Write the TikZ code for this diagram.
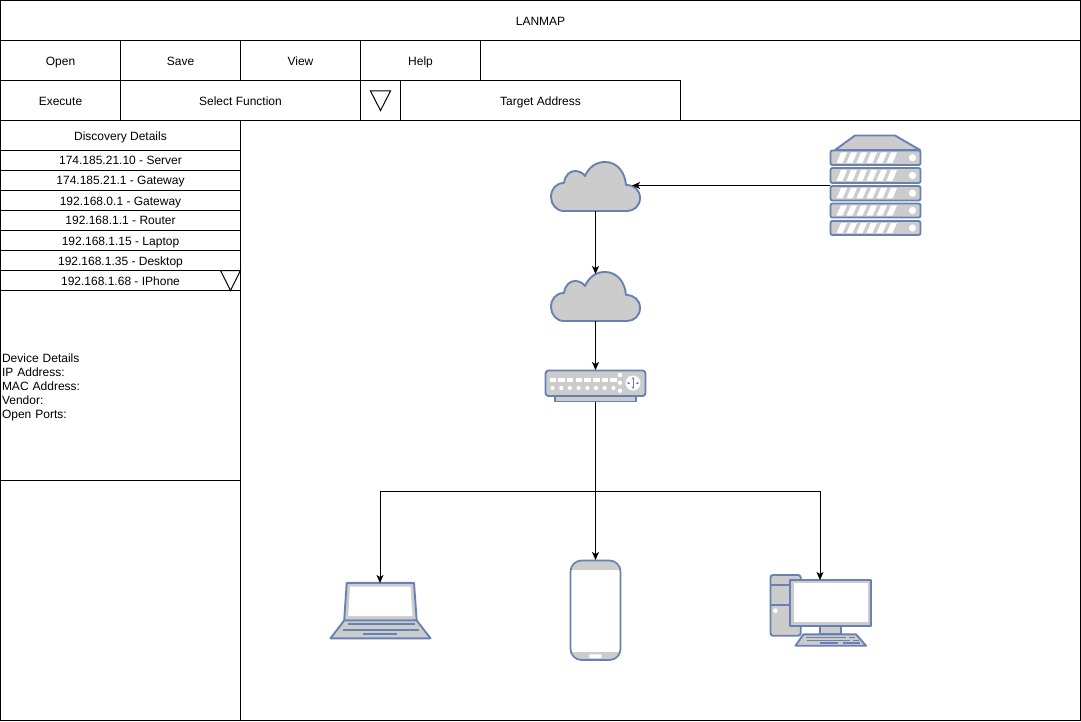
\documentclass[tikz,border=0pt]{standalone}
\usepackage{fontspec}
\setmainfont{Liberation Sans}
\usetikzlibrary{arrows.meta}
\definecolor{iconline}{HTML}{6881B3}
\definecolor{iconfill}{HTML}{CCCCCC}
\newcommand{\cloudicon}[2]{%
  \begin{scope}[shift={(#1,#2)}]
    \draw[iconpart] (564,211) .. controls (556,211) and (551,204) .. (551,197)
      .. controls (551,189) and (556,183) .. (564,183)
      .. controls (565,175) and (570,171) .. (575,171)
      .. controls (579,171) and (583,173) .. (585,176)
      .. controls (589,167) and (596,162) .. (605,162)
      .. controls (617,162) and (625,172) .. (626,185)
      .. controls (634,185) and (640,190) .. (640,198)
      .. controls (640,206) and (634,211) .. (627,211) -- cycle;
  \end{scope}}
\newcommand{\slab}[2]{%
  \draw[iconpart,rounded corners=2pt] (830.5,#1) rectangle (920.5,#2);
  \foreach \s in {0,...,5}{
    \fill[white] ({836.5+\s*10},{#2-2}) -- ({841+\s*10},{#1+2}) -- ({847+\s*10},{#1+2}) -- ({842.5+\s*10},{#2-2}) -- cycle;}
  \fill[white] (912.5,{(#1+#2)/2}) circle (3.6);}
\tikzset{
  cell/.style={draw=black,line width=1pt,rectangle,anchor=north west,inner sep=0pt,outer sep=0pt,align=center,
    font=\fontsize{12}{14}\selectfont,text=black,text height=9pt,text depth=0pt},
  bigcell/.style={cell,text height=11pt},
  plain/.style={rectangle,anchor=north west,inner ysep=0pt,inner xsep=2pt,outer sep=0pt,align=left,
    font=\fontsize{12}{14}\selectfont,text=black},
  iconbox/.style={rectangle,inner sep=0pt,outer sep=0pt,anchor=north west},
  iconpart/.style={draw=iconline,fill=iconfill,line width=1.9pt,line join=round},
  iconline/.style={draw=iconline,line width=1.7pt},
  conn/.style={draw=black,line width=1pt,-{Stealth[length=8pt,width=7pt,inset=2pt]}},
  tri/.style={draw=black,line width=1pt,fill=white,line join=miter}
}
\begin{document}
\begin{tikzpicture}[x=1pt,y=-1pt]
\useasboundingbox (0,0) rectangle (1081,722);
\fill[white] (0,0) rectangle (1081,722);
% frame
\node[bigcell,minimum width=1080pt,minimum height=40pt] (title) at (0.5,0.5) {LANMAP};
\node[cell,minimum width=1080pt,minimum height=80pt] (menubar) at (0.5,40.5) {};
\node[cell,minimum width=840pt,minimum height=600pt] (canvas) at (240.5,120.5) {};
\node[bigcell,minimum width=120pt,minimum height=40pt] (open) at (0.5,40.5) {Open};
\node[bigcell,minimum width=120pt,minimum height=40pt] (save) at (120.5,40.5) {Save};
\node[bigcell,minimum width=120pt,minimum height=40pt] (view) at (240.5,40.5) {View};
\node[bigcell,minimum width=120pt,minimum height=40pt] (help) at (360.5,40.5) {Help};
\node[bigcell,minimum width=120pt,minimum height=40pt] (execute) at (0.5,80.5) {Execute};
\node[bigcell,minimum width=240pt,minimum height=40pt] (select) at (120.5,80.5) {Select Function};
\node[cell,minimum width=40pt,minimum height=40pt] (dropbox) at (360.5,80.5) {};
\node[bigcell,minimum width=280pt,minimum height=40pt] (target) at (400.5,80.5) {Target Address};
\draw[tri] (370.5,91) -- (390.5,91) -- (380.5,110.5) -- cycle;
% left panel
\node[bigcell,minimum width=240pt,minimum height=30pt] (disc) at (0.5,120.5) {Discovery Details};
\node[cell,minimum width=240pt,minimum height=20pt] (r1) at (0.5,150.5) {174.185.21.10 - Server};
\node[cell,minimum width=240pt,minimum height=20pt] (r2) at (0.5,170.5) {174.185.21.1 - Gateway};
\node[cell,minimum width=240pt,minimum height=20pt] (r3) at (0.5,190.5) {192.168.0.1 - Gateway};
\node[cell,minimum width=240pt,minimum height=20pt] (r4) at (0.5,210.5) {192.168.1.1 - Router};
\node[cell,minimum width=240pt,minimum height=20pt] (r5) at (0.5,230.5) {192.168.1.15 - Laptop};
\node[cell,minimum width=240pt,minimum height=20pt] (r6) at (0.5,250.5) {192.168.1.35 - Desktop};
\node[cell,minimum width=240pt,minimum height=20pt] (r7) at (0.5,270.5) {192.168.1.68 - IPhone};
\draw[tri,fill=none] (220.5,270.5) -- (240.5,270.5) -- (230.5,290.5) -- cycle;
\node[cell,minimum width=240pt,minimum height=190pt] (detailsbox) at (0.5,290.5) {};
\node[plain,minimum height=190pt,text width=236pt] (details) at (0,292)
  {Device Details\\IP Address:\\MAC Address:\\Vendor:\\Open Ports:};
\node[cell,minimum width=240pt,minimum height=240pt] (lower) at (0.5,480.5) {};
% icon anchors
\node[iconbox,minimum width=92pt,minimum height=100pt] (server) at (830,135.5) {};
\node[iconbox,minimum width=90pt,minimum height=50pt] (cloudA) at (551,161) {};
\node[iconbox,minimum width=90pt,minimum height=50pt] (cloudB) at (551,271) {};
\node[iconbox,minimum width=102pt,minimum height=32pt] (router) at (545,370) {};
\node[iconbox,minimum width=100pt,minimum height=55pt] (laptop) at (330,583) {};
\node[iconbox,minimum width=50pt,minimum height=100pt] (phone) at (570.5,560) {};
\node[iconbox,minimum width=100pt,minimum height=66pt] (desktop) at (770,580) {};
% server
\draw[iconpart] (835,150) -- (855,135.5) -- (895,135.5) -- (920,150) -- cycle;
\slab{150.5}{165}
\slab{168}{183}
\slab{186}{200.5}
\slab{203.5}{217.5}
\slab{221}{235}
% clouds
\cloudicon{0}{0}
\cloudicon{0}{110}
% router
\draw[iconpart] (555,396) rectangle (636,401.5);
\draw[iconpart,rounded corners=3pt] (545.5,370.5) rectangle (645.5,396);
\foreach \i in {0,...,7}{
  \fill[white] ({549.5+\i*8.7},377.5) rectangle ({556+\i*8.7},381.5);
  \fill[white] ({552.5+\i*8.7},388) circle (2.1);}
\foreach \y in {375,382.7,390.7}{\fill[white] (620,\y) circle (2.2);}
\fill[white] (633,383) circle (7.5);
\draw[draw=iconline,line width=0.8pt,{Stealth[length=2.5pt,width=2.5pt]}-{Stealth[length=2.5pt,width=2.5pt]}] (633,377) -- (633,389);
\draw[draw=iconline,line width=0.8pt,{Stealth[length=2pt,width=2.5pt]}-] (627,383) -- (630,383);
\draw[draw=iconline,line width=0.8pt,-{Stealth[length=2pt,width=2.5pt]}] (636,383) -- (639,383);
% laptop
\draw[iconpart] (346.7,582.8) -- (414,582.8) -- (416.7,620.5) -- (344.2,620.5) -- cycle;
\fill[white] (350,586.5) -- (410.5,586.5) -- (412.5,616) -- (348.3,616) -- cycle;
\draw[iconpart] (344.2,620.5) -- (416.7,620.5) -- (430.5,638.3) -- (330.5,638.3) -- cycle;
\draw[iconline] (347.5,624.3) -- (414.5,624.3);
\draw[iconline] (343,630) -- (419,630);
\draw[iconline] (362.5,633.8) -- (397,633.8);
% phone
\fill[white,rounded corners=11pt] (570.5,560.5) rectangle (620.5,660);
\begin{scope}
  \clip[rounded corners=11pt] (570.5,560.5) rectangle (620.5,660);
  \fill[iconfill] (570.5,560.5) rectangle (620.5,569.5);
  \fill[iconfill] (570.5,651.5) rectangle (620.5,660);
\end{scope}
\fill[white,rounded corners=1pt] (589,654.3) rectangle (601.7,658);
\draw[iconline,rounded corners=11pt] (570.5,560.5) rectangle (620.5,660);
% desktop
\draw[iconpart,rounded corners=2.5pt] (770.5,575) rectangle (800.7,635.7);
\draw[iconline] (770.5,585) -- (800.7,585);
\draw[iconline] (770.5,605) -- (800.7,605);
\fill[white] (775.3,610.7) circle (2.3);
\draw[iconpart] (820.3,625.7) rectangle (841,634.3);
\draw[iconpart] (790.3,580) rectangle (871,625.7);
\fill[white] (793.5,582.5) rectangle (868,622.3);
\draw[iconpart] (803.5,634.3) -- (856,634.3) -- (866,645.7) -- (795.5,645.7) -- cycle;
\draw[iconline] (806,637.5) -- (846,637.5);
\draw[iconline] (849,637.5) -- (855,637.5);
\draw[iconline] (807,640.5) -- (850,640.5);
\draw[iconline] (853,640.5) -- (859,640.5);
\draw[iconline] (820,643.2) -- (838,643.2);
\draw[iconline] (843,643.2) -- (860,643.2);
% connectors
\coordinate (cloudAin) at (632,185.5);
\coordinate (cloudBin) at (595.5,274);
\coordinate (bus) at (595.5,491);
\coordinate (cloudAout) at (595.5,211);
\coordinate (cloudBout) at (595.5,321);
\coordinate (routerin) at (595.5,370);
\coordinate (routerout) at (595.5,401.5);
\draw[conn] (server.west) -- (cloudAin);
\draw[conn] (cloudAout) -- (cloudBin);
\draw[conn] (cloudBout) -- (routerin);
\draw[conn] (routerout) -- (bus) -| (laptop.north);
\draw[conn] (bus) -- (phone.north);
\draw[conn] (bus) -| (desktop.north);
\end{tikzpicture}
\end{document}
